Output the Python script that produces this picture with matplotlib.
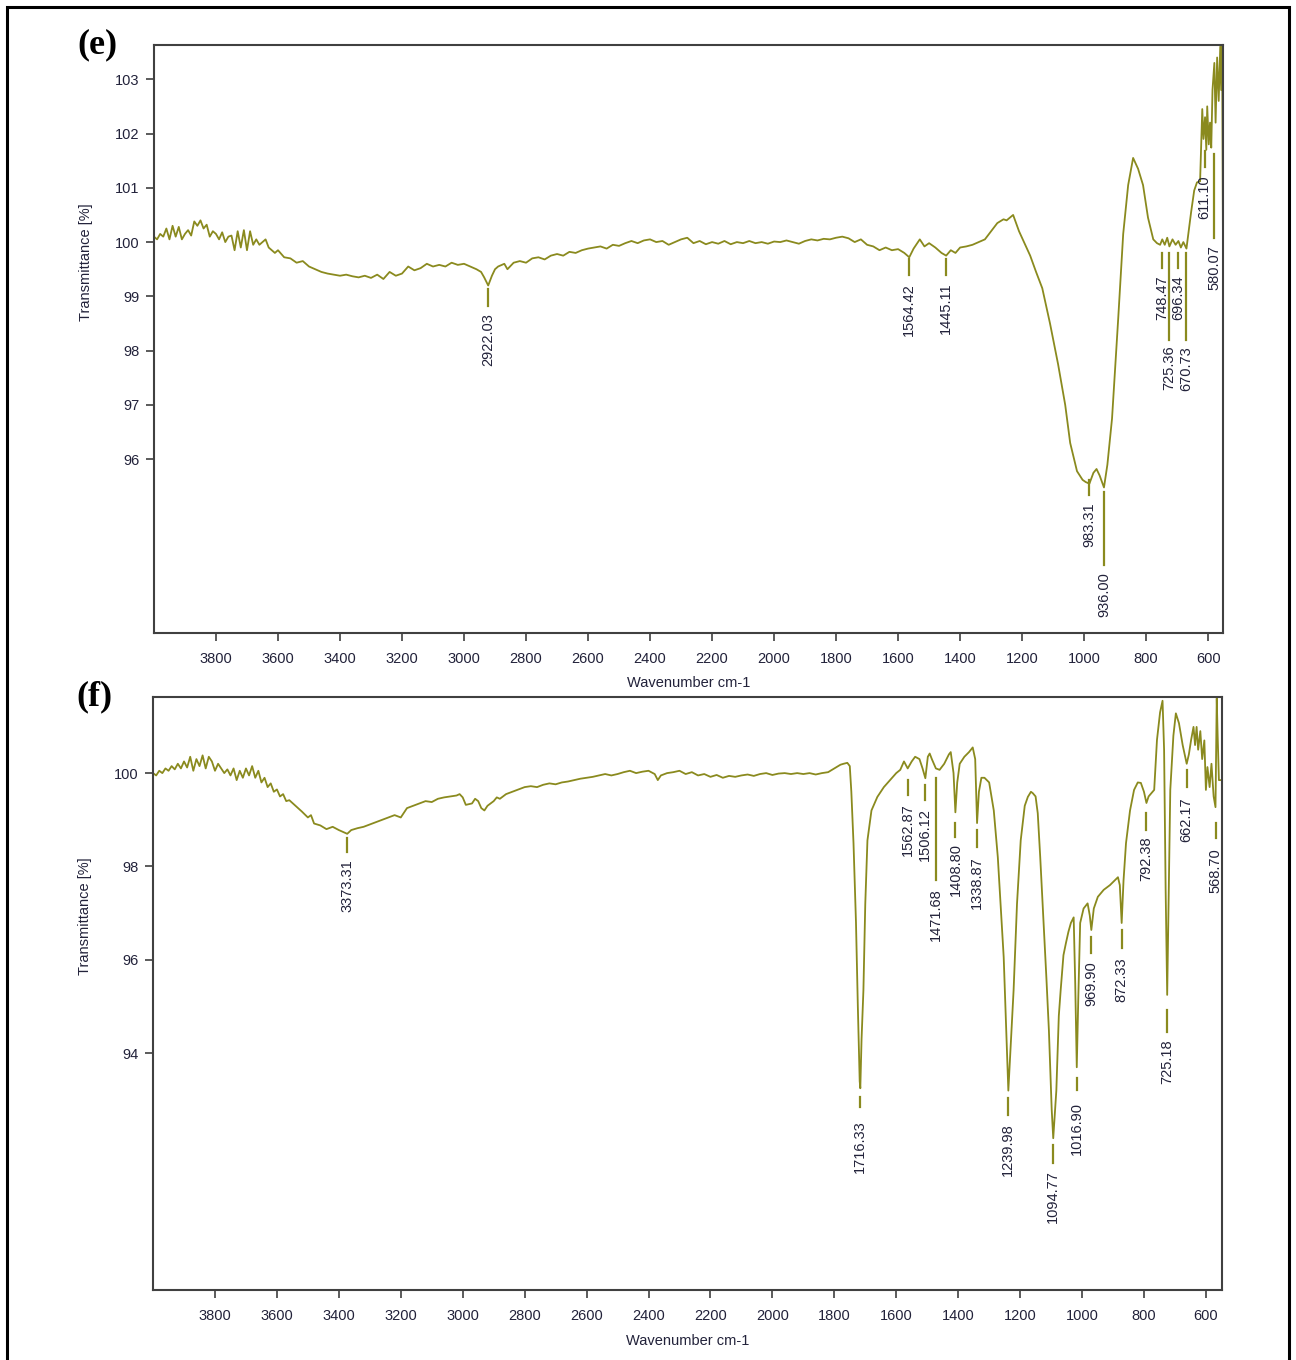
import matplotlib.pyplot as plt
from matplotlib.patches import Rectangle

plt.rcParams['font.family'] = ['Liberation Sans', 'DejaVu Sans']

# ---- spectrum (e) ----
wn_e = [4000, 3990, 3980, 3970, 3960, 3950, 3940, 3930, 3920, 3910, 3900, 3890, 3880, 3870,
        3860, 3850, 3840, 3830, 3820, 3810, 3800, 3790, 3780, 3770, 3760, 3750, 3740, 3730,
        3720, 3710, 3700, 3690, 3680, 3670, 3660, 3650, 3640, 3630, 3620, 3610, 3600, 3580,
        3560, 3540, 3520, 3500, 3480, 3460, 3440, 3420, 3400, 3380, 3360, 3340, 3320, 3300,
        3280, 3260, 3240, 3220, 3200, 3180, 3160, 3140, 3120, 3100, 3080, 3060, 3040, 3020,
        3000, 2980, 2960, 2945, 2935, 2922, 2910, 2900, 2890, 2870, 2860, 2840, 2820, 2800,
        2780, 2760, 2740, 2720, 2700, 2680, 2660, 2640, 2620, 2600, 2580, 2560, 2540, 2520,
        2500, 2480, 2460, 2440, 2420, 2400, 2380, 2360, 2340, 2320, 2300, 2280, 2260, 2240,
        2220, 2200, 2180, 2160, 2140, 2120, 2100, 2080, 2060, 2040, 2020, 2000, 1980, 1960,
        1940, 1920, 1900, 1880, 1860, 1840, 1820, 1800, 1780, 1760, 1740, 1720, 1700, 1680,
        1660, 1640, 1620, 1600, 1580, 1564, 1550, 1530, 1515, 1500, 1480, 1460, 1445, 1430,
        1415, 1400, 1380, 1360, 1340, 1320, 1300, 1280, 1260, 1250, 1229, 1210, 1190, 1174,
        1155, 1135, 1110, 1084, 1061, 1045, 1023, 1005, 995, 983, 970, 960, 950, 936, 925,
        910, 890, 874, 858, 842, 826, 810, 794, 777, 765, 755, 748, 740, 732, 725, 715, 705,
        696, 688, 680, 670, 663, 655, 645, 636, 626, 619, 615, 610, 606, 603, 598, 594, 590,
        586, 580, 576, 571, 566, 561, 558, 555, 553, 552]
tr_e = [100.10, 100.05, 100.15, 100.10, 100.25, 100.05, 100.30, 100.10, 100.28, 100.05, 100.15,
        100.22, 100.12, 100.38, 100.30, 100.40, 100.25, 100.32, 100.10, 100.20, 100.15, 100.05,
        100.18, 100.00, 100.10, 100.12, 99.85, 100.20, 99.90, 100.22, 99.85, 100.20, 99.95,
        100.05, 99.95, 100.00, 100.05, 99.90, 99.85, 99.80, 99.85, 99.72, 99.70, 99.62, 99.65,
        99.55, 99.50, 99.45, 99.42, 99.40, 99.38, 99.40, 99.37, 99.35, 99.38, 99.34, 99.40,
        99.32, 99.45, 99.38, 99.42, 99.55, 99.48, 99.52, 99.60, 99.55, 99.58, 99.55, 99.62,
        99.58, 99.60, 99.55, 99.50, 99.45, 99.35, 99.20, 99.38, 99.50, 99.55, 99.60, 99.50,
        99.62, 99.65, 99.62, 99.70, 99.72, 99.68, 99.75, 99.78, 99.75, 99.82, 99.80, 99.85,
        99.88, 99.90, 99.92, 99.88, 99.95, 99.93, 99.98, 100.02, 99.98, 100.03, 100.05, 100.00,
        100.02, 99.95, 100.00, 100.05, 100.08, 99.98, 100.02, 99.96, 100.00, 99.97, 100.02,
        99.96, 100.00, 99.98, 100.02, 99.98, 100.00, 99.97, 100.01, 100.00, 100.03, 100.00,
        99.97, 100.02, 100.05, 100.03, 100.06, 100.05, 100.08, 100.10, 100.07, 100.00, 100.05,
        99.95, 99.92, 99.85, 99.90, 99.85, 99.87, 99.80, 99.72, 99.88, 100.05, 99.92, 99.98,
        99.90, 99.80, 99.75, 99.85, 99.80, 99.90, 99.92, 99.95, 100.00, 100.05, 100.20, 100.35,
        100.42, 100.40, 100.50, 100.20, 99.95, 99.75, 99.45, 99.15, 98.50, 97.75, 97.00, 96.30,
        95.78, 95.62, 95.58, 95.55, 95.75, 95.82, 95.70, 95.48, 95.90, 96.75, 98.60, 100.15,
        101.05, 101.55, 101.35, 101.05, 100.45, 100.05, 99.98, 99.95, 100.05, 99.95, 100.08,
        99.92, 100.05, 99.95, 100.02, 99.90, 100.00, 99.88, 100.20, 100.55, 100.95, 101.10,
        101.12, 102.45, 101.90, 102.30, 101.70, 102.50, 101.80, 102.20, 101.74, 102.80, 103.30,
        102.20, 103.40, 102.60, 103.60, 102.80, 103.60, 101.00, 99.70]
peaks_e = ['2922.03', '1564.42', '1445.11', '983.31', '936.00', '748.47', '725.36',
           '696.34', '670.73', '611.10', '580.07']

# ---- spectrum (f) ----
wn_f = [4000, 3990, 3980, 3970, 3960, 3950, 3940, 3930, 3920, 3910, 3900, 3890, 3880, 3870,
        3860, 3850, 3840, 3830, 3820, 3810, 3800, 3790, 3780, 3770, 3760, 3750, 3740, 3730,
        3720, 3710, 3700, 3690, 3680, 3670, 3660, 3650, 3640, 3630, 3620, 3610, 3600, 3590,
        3580, 3570, 3560, 3540, 3520, 3500, 3490, 3480, 3460, 3440, 3420, 3400, 3380, 3373,
        3360, 3340, 3320, 3300, 3280, 3260, 3240, 3220, 3200, 3180, 3160, 3140, 3120, 3100,
        3080, 3060, 3040, 3020, 3010, 3000, 2990, 2970, 2960, 2950, 2940, 2930, 2920, 2900,
        2890, 2880, 2860, 2840, 2820, 2800, 2780, 2760, 2740, 2720, 2700, 2680, 2660, 2640,
        2620, 2600, 2580, 2560, 2540, 2520, 2500, 2480, 2460, 2440, 2420, 2400, 2380, 2370,
        2360, 2340, 2320, 2300, 2280, 2260, 2240, 2220, 2200, 2180, 2160, 2140, 2120, 2100,
        2080, 2060, 2040, 2020, 2000, 1980, 1960, 1940, 1920, 1900, 1880, 1860, 1840, 1820,
        1800, 1780, 1770, 1758, 1750, 1745, 1738, 1730, 1724, 1718, 1716, 1712, 1706, 1700,
        1693, 1680, 1661, 1640, 1620, 1600, 1587, 1575, 1563, 1550, 1539, 1525, 1515, 1506,
        1498, 1492, 1485, 1472, 1460, 1445, 1430, 1424, 1415, 1409, 1403, 1395, 1380, 1365,
        1353, 1345, 1339, 1333, 1325, 1315, 1300, 1285, 1272, 1253, 1245, 1238, 1230, 1221,
        1210, 1198, 1185, 1175, 1165, 1159, 1150, 1143, 1135, 1124, 1115, 1107, 1098, 1093,
        1088, 1083, 1075, 1069, 1060, 1052, 1044, 1036, 1027, 1022, 1017, 1012, 1006, 995,
        982, 975, 970, 962, 949, 930, 910, 895, 884, 878, 872, 866, 858, 845, 832, 820, 810,
        800, 792, 785, 767, 758, 748, 740, 735, 730, 725, 720, 715, 705, 697, 687, 675, 662,
        655, 648, 640, 635, 630, 625, 618, 612, 605, 600, 595, 588, 582, 575, 569, 565, 562,
        558, 548]
tr_f = [100.00, 99.95, 100.05, 100.00, 100.10, 100.05, 100.15, 100.08, 100.20, 100.10, 100.25,
        100.12, 100.35, 100.05, 100.30, 100.15, 100.38, 100.10, 100.35, 100.25, 100.05, 100.20,
        100.10, 100.00, 100.08, 99.95, 100.10, 99.85, 100.05, 99.90, 100.10, 99.95, 100.15,
        99.90, 100.05, 99.80, 99.90, 99.70, 99.78, 99.60, 99.65, 99.50, 99.55, 99.40, 99.42,
        99.30, 99.18, 99.05, 99.10, 98.92, 98.88, 98.80, 98.85, 98.78, 98.72, 98.70, 98.78,
        98.82, 98.85, 98.90, 98.95, 99.00, 99.05, 99.10, 99.05, 99.25, 99.30, 99.35, 99.40,
        99.38, 99.45, 99.48, 99.50, 99.52, 99.55, 99.48, 99.32, 99.35, 99.45, 99.40, 99.25,
        99.20, 99.30, 99.40, 99.48, 99.45, 99.55, 99.60, 99.65, 99.70, 99.72, 99.70, 99.75,
        99.78, 99.76, 99.80, 99.82, 99.85, 99.88, 99.90, 99.92, 99.95, 99.98, 99.95, 99.98,
        100.02, 100.05, 100.00, 100.03, 100.05, 99.98, 99.85, 99.95, 100.00, 100.02, 100.05,
        99.98, 100.02, 99.95, 99.98, 99.92, 99.96, 99.90, 99.94, 99.92, 99.95, 99.97, 99.94,
        99.98, 100.00, 99.96, 99.99, 100.00, 99.98, 100.00, 99.98, 100.00, 99.97, 100.00,
        100.02, 100.10, 100.18, 100.20, 100.22, 100.15, 99.60, 98.50, 96.80, 95.00, 93.40,
        93.25, 94.30, 95.35, 97.20, 98.56, 99.20, 99.49, 99.70, 99.85, 100.00, 100.07, 100.25,
        100.10, 100.25, 100.35, 100.30, 100.10, 99.89, 100.35, 100.42, 100.30, 100.10, 100.07,
        100.20, 100.40, 100.45, 100.00, 99.16, 99.80, 100.20, 100.35, 100.45, 100.55, 100.30,
        98.93, 99.60, 99.90, 99.90, 99.80, 99.20, 98.20, 96.06, 94.50, 93.20, 94.20, 95.35,
        97.20, 98.56, 99.30, 99.49, 99.60, 99.57, 99.50, 99.14, 98.20, 96.79, 95.60, 94.49,
        92.80, 92.18, 92.70, 93.20, 94.80, 95.35, 96.10, 96.36, 96.60, 96.79, 96.91, 95.50,
        93.70, 95.20, 96.79, 97.10, 97.21, 96.95, 96.64, 97.10, 97.35, 97.50, 97.60, 97.70,
        97.77, 97.60, 96.79, 97.70, 98.50, 99.20, 99.64, 99.80, 99.79, 99.60, 99.36, 99.50,
        99.64, 100.71, 101.30, 101.55, 100.50, 97.50, 95.25, 97.50, 99.64, 100.80, 101.28,
        101.07, 100.60, 100.20, 100.40, 100.70, 100.99, 100.60, 100.99, 100.50, 100.90, 100.30,
        100.70, 99.64, 100.13, 99.70, 100.20, 99.50, 99.27, 101.60, 100.80, 99.85, 99.85]
peaks_f = ['3373.31', '1716.33', '1562.87', '1506.12', '1471.68', '1408.80', '1338.87',
           '1239.98', '1094.77', '1016.90', '969.90', '872.33', '792.38', '725.18',
           '662.17', '568.70']

xticks = list(range(3800, 599, -200))

# marker line (top, bottom) and label top, in transmittance units
mark_e = [(99.13, 98.83, 98.70), (99.68, 99.40, 99.25), (99.68, 99.40, 99.25),
          (95.62, 95.34, 95.20), (95.40, 94.05, 93.92), (99.79, 99.53, 99.38),
          (99.79, 98.20, 98.09), (99.79, 99.53, 99.38), (99.79, 98.20, 98.09),
          (101.67, 101.38, 101.23), (101.62, 100.08, 99.94)]
mark_f = [(98.60, 98.30, 98.15), (93.06, 92.85, 92.57), (99.86, 99.54, 99.36),
          (99.75, 99.43, 99.26), (99.90, 97.71, 97.54), (98.94, 98.63, 98.51),
          (98.79, 98.42, 98.21), (93.04, 92.67, 92.50), (92.04, 91.65, 91.50),
          (93.47, 93.21, 92.96), (96.49, 96.15, 95.96), (96.64, 96.26, 96.06),
          (99.15, 98.79, 98.64), (94.93, 94.46, 94.29), (100.07, 99.71, 99.49),
          (98.94, 98.62, 98.40)]

line_color = '#8a8a1e'
text_color = '#22223a'
spine_color = '#404040'

fig = plt.figure(figsize=(12.96, 13.6), dpi=100)
ax1 = fig.add_axes([0.1188, 0.5346, 0.8249, 0.4323])
ax2 = fig.add_axes([0.1181, 0.0515, 0.8248, 0.4360])


def draw_panel(ax, wn, tr, peaks, marks, xlim, ylim, yticks, letter):
    ax.plot(wn, tr, color=line_color, lw=1.3)
    for p, (t1, t2, t3) in zip(peaks, marks):
        w = float(p)
        ax.plot([w, w], [t1, t2], color=line_color, lw=1.6)
        ax.text(w, t3, p, rotation=90, ha='center', va='top', fontsize=10.5,
                color=text_color)
    ax.set_xlim(*xlim)
    ax.set_ylim(*ylim)
    ax.set_xticks(xticks)
    ax.set_yticks(yticks)
    ax.tick_params(direction='out', length=5.5, width=1.2, color=spine_color,
                   labelsize=10.5, labelcolor=text_color)
    ax.tick_params(axis='x', pad=8)
    ax.tick_params(axis='y', pad=5)
    for s in ax.spines.values():
        s.set_color(spine_color)
        s.set_linewidth(1.5)
    ax.set_xlabel('Wavenumber cm-1', fontsize=10.5, color=text_color)
    ax.set_ylabel('Transmittance [%]', fontsize=10.5, color=text_color)
    ax.xaxis.set_label_coords(0.5, -0.074)
    ax.yaxis.set_label_coords(-0.057, 0.63)
    ax.text(-0.072, 1.0, letter, transform=ax.transAxes, fontsize=26,
            fontweight='bold', family='Liberation Serif', ha='left', va='center')


draw_panel(ax1, wn_e, tr_e, peaks_e, mark_e, (4000, 552), (92.8, 103.63),
           [96, 97, 98, 99, 100, 101, 102, 103], '(e)')
draw_panel(ax2, wn_f, tr_f, peaks_f, mark_f, (4000, 548), (88.93, 101.63),
           [94, 96, 98, 100], '(f)')

fig.patches.append(Rectangle((7 / 1296, -0.01), 1282 / 1296, 1.01 - 7 / 1360,
                             transform=fig.transFigure, fill=False,
                             edgecolor='black', lw=2.2))

fig.savefig('out.png', dpi=100)
